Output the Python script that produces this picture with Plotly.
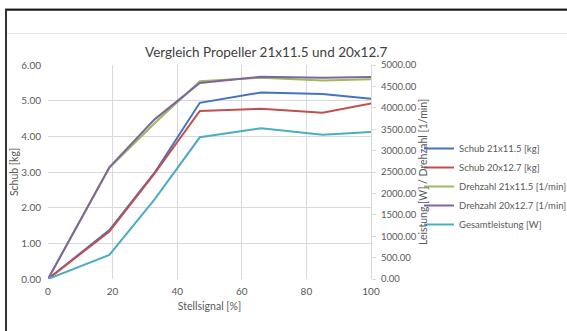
import plotly.graph_objects as go

# ---- data ----
stellsignal = [0, 19, 33, 47, 66, 85, 100]
schub_21 = [0.0, 1.37, 2.98, 4.94, 5.23, 5.19, 5.05]
schub_20 = [0.0, 1.33, 2.96, 4.71, 4.77, 4.66, 4.92]
drehzahl_21 = [0, 2600, 3640, 4620, 4705, 4635, 4665]
drehzahl_20 = [0, 2610, 3730, 4580, 4727, 4704, 4720]
leistung = [0, 561, 1862, 3311, 3521, 3372, 3435]

names = ["Schub 21x11.5 [kg]", "Schub 20x12.7 [kg]", "Drehzahl 21x11.5 [1/min]",
         "Drehzahl 20x12.7 [1/min]", "Gesamtleistung [W]"]
colors = ["#4472C4", "#C0504D", "#9BBB59", "#8064A2", "#4BACC6"]

W, H = 567, 331
L, R, T, B = 48, 371, 65, 279  # plot area pixel edges


def px(x):
    return (x - L) / (R - L)


def py(y):
    return (B - y) / (B - T)


FONT = "Lato"
GRAY = "#595959"

fig = go.Figure()
series = [(schub_21, "y"), (schub_20, "y"), (drehzahl_21, "y2"), (drehzahl_20, "y2"), (leistung, "y2")]
for (vals, ax), nm, c in zip(series, names, colors):
    fig.add_trace(go.Scatter(x=stellsignal, y=vals, name=nm, yaxis=ax, mode="lines",
                             line=dict(color=c, width=2)))

shapes = [
    # screenshot frame
    dict(type="line", xref="paper", yref="paper", x0=px(5), x1=px(567), y0=py(8.5), y1=py(8.5),
         line=dict(color="#c8c8c8", width=1)),
    dict(type="line", xref="paper", yref="paper", x0=px(5), x1=px(567), y0=py(9.8), y1=py(9.8),
         line=dict(color="#1a1a1a", width=2)),
    dict(type="line", xref="paper", yref="paper", x0=px(6), x1=px(6), y0=py(9), y1=py(331),
         line=dict(color="#333333", width=2)),
    dict(type="line", xref="paper", yref="paper", x0=px(7), x1=px(567), y0=py(33.5), y1=py(33.5),
         line=dict(color="#e3e3e3", width=1)),
]

fig.update_layout(
    width=W, height=H,
    margin=dict(l=L, r=W - R, t=T, b=H - B, pad=0, autoexpand=False),
    paper_bgcolor="white", plot_bgcolor="white",
    font=dict(family=FONT, color=GRAY, size=10),
    showlegend=True,
    legend=dict(x=px(419), y=py(134), xanchor="left", yanchor="top",
                font=dict(family=FONT, size=9.5, color=GRAY), bgcolor="rgba(0,0,0,0)",
                itemwidth=30, tracegroupgap=0),
    xaxis=dict(range=[0, 100], dtick=20, tick0=0, showgrid=True, gridcolor="#d9d9d9",
               gridwidth=1, zeroline=False, showline=False, ticks="", automargin=False,
               ticklabelstandoff=5, tickfont=dict(size=10, color=GRAY),
               title=dict(text="Stellsignal [%]", font=dict(size=10.5, color=GRAY), standoff=6)),
    yaxis=dict(range=[0, 6], dtick=1, tick0=0, tickformat=".2f", showgrid=True, automargin=False,
               gridcolor="#d9d9d9", zeroline=False, showline=False, ticks="",
               ticklabelstandoff=6, tickfont=dict(size=10, color=GRAY),
               title=dict(text="Schub [kg]", font=dict(size=10.5, color=GRAY), standoff=0)),
    yaxis2=dict(range=[0, 5000], dtick=500, tick0=0, tickformat=".2f", overlaying="y",
                side="right", showgrid=False, zeroline=False, showline=True, automargin=False,
                linecolor="#d9d9d9", linewidth=1, ticks="outside", ticklen=4,
                tickcolor="#d9d9d9", ticklabelstandoff=3, tickfont=dict(size=9.5, color=GRAY),
                title=dict(text="Leistung [W] / Drehzahl [1/min]",
                           font=dict(size=10.5, color=GRAY), standoff=1)),
    shapes=shapes,
    annotations=[dict(text="Vergleich Propeller 21x11.5 und 20x12.7", xref="paper", yref="paper",
                      x=px(266), y=py(52), xanchor="center", yanchor="middle", showarrow=False,
                      font=dict(family=FONT, size=13.5, color="#404040"))],
)

fig.write_html("out.html", config={"displayModeBar": False},
               post_script="document.body.style.margin='0';")
